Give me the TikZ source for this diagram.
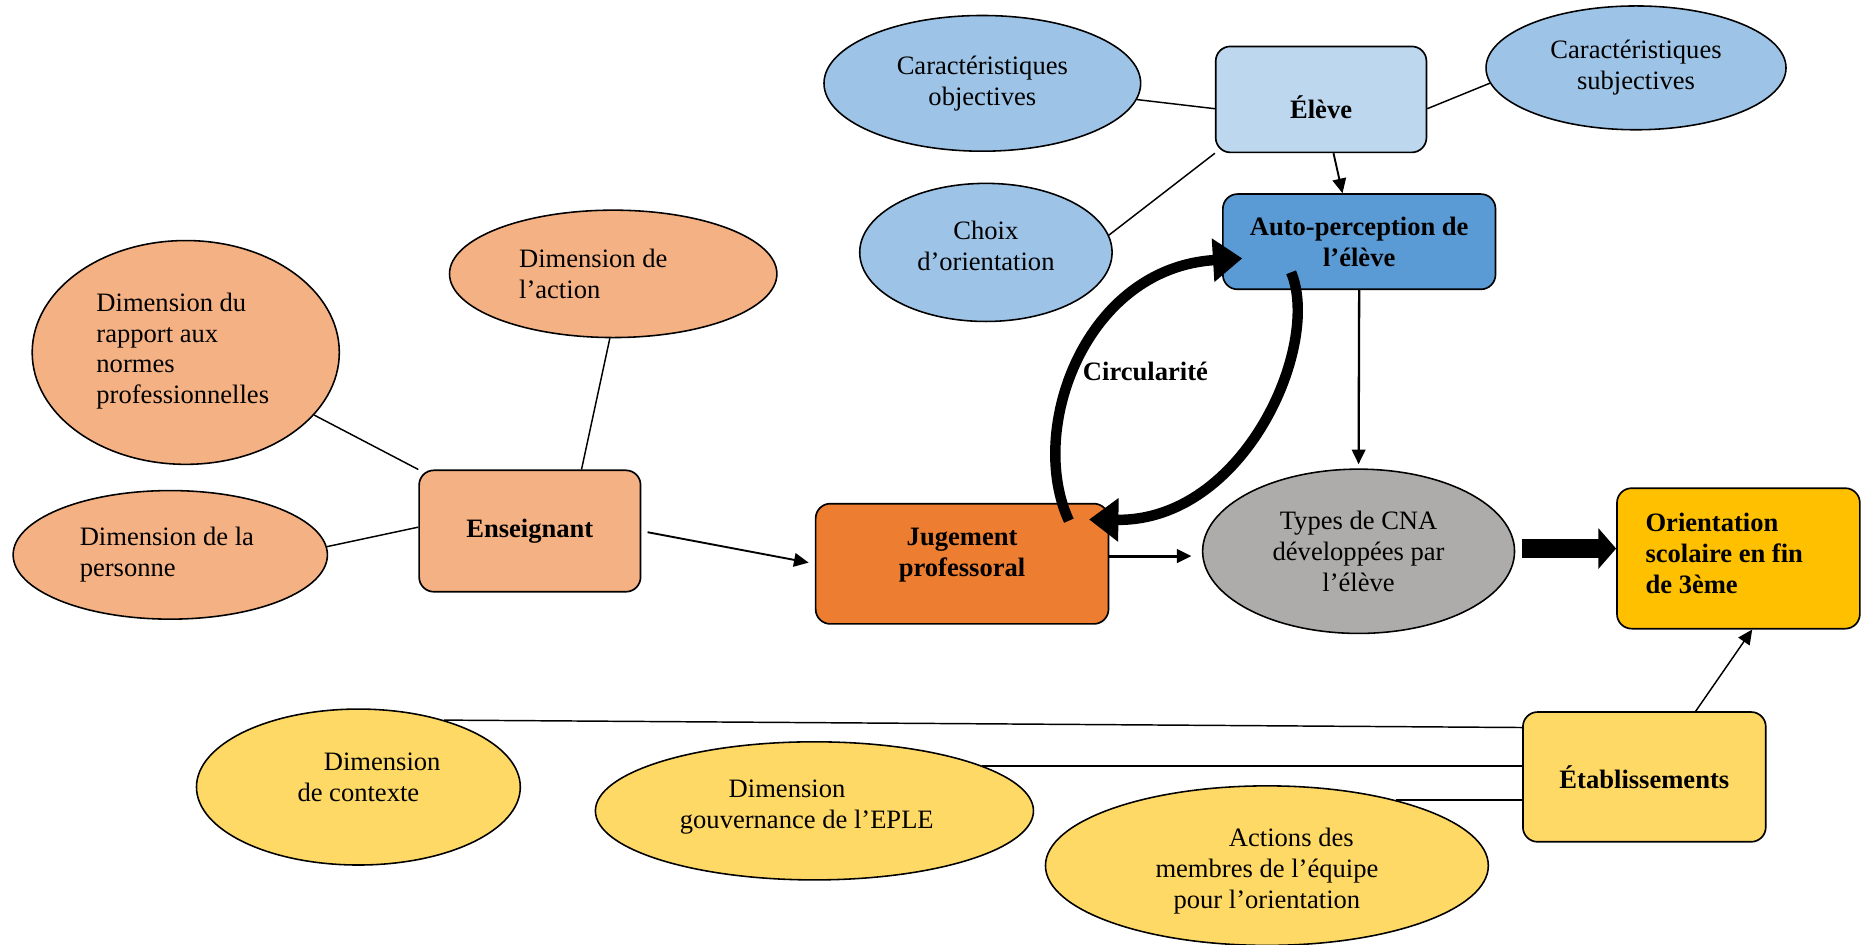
\documentclass[tikz,border=0pt]{standalone}
\usepackage{fontspec}
\setmainfont{Liberation Serif}
\usetikzlibrary{shapes.geometric,arrows.meta}
\definecolor{bluelight}{HTML}{BDD7EE}
\definecolor{bluemid}{HTML}{9DC3E6}
\definecolor{bluedark}{HTML}{5B9BD5}
\definecolor{peach}{HTML}{F4B183}
\definecolor{orangejug}{HTML}{ED7D31}
\definecolor{greycna}{HTML}{AEABAB}
\definecolor{goldorient}{HTML}{FFC000}
\definecolor{yellowetab}{HTML}{FFD966}

\begin{document}
\begin{tikzpicture}[x=0.02cm,y=-0.02cm,
    every node/.style={font=\fontsize{12.7}{14.8}\selectfont, inner sep=0pt},
    blob/.style={ellipse, draw, line width=0.75pt},
    box/.style={rectangle, draw, rounded corners=7pt, line width=0.8pt,
      font=\fontsize{12.7}{14.8}\selectfont\bfseries},
    link/.style={line width=0.7pt},
    arr/.style={line width=0.9pt, -{Triangle[length=7pt,width=6.5pt]}},
    thickarr/.style={line width=9pt, -{Triangle[length=8.5pt,width=19pt]}},
    circarr/.style={line width=5pt, -{Triangle[length=14pt,width=20pt]}}]
  \useasboundingbox (0,0) rectangle (1568,793);

  \node[blob, fill=bluemid, minimum width=5.32cm, minimum height=2.28cm, align=center]
    (cobj) at (825,70) {Caractéristiques\\objectives};
  \node[box, fill=bluelight, minimum width=3.54cm, minimum height=1.78cm, text height=0.63cm]
    (eleve) at (1109.5,83.5) {Élève};
  \node[blob, fill=bluemid, minimum width=5.04cm, minimum height=2.08cm, align=center]
    (csub) at (1374,57) {Caractéristiques\\subjectives};
  \node[blob, fill=bluemid, minimum width=4.24cm, minimum height=2.32cm, align=center, text depth=0.22cm]
    (choix) at (828,212) {Choix\\d’orientation};
  \node[box, fill=bluedark, minimum width=4.58cm, minimum height=1.6cm, align=center]
    (auto) at (1141.5,203) {Auto-perception de\\l’élève};

  \node[blob, fill=peach, minimum width=5.5cm, minimum height=2.14cm, text width=3.16cm, align=flush left]
    (action) at (515,230) {Dimension de\\l’action};
  \node[blob, fill=peach, minimum width=5.16cm, minimum height=3.76cm, text width=3.0cm, align=flush left, text depth=1.70cm]
    (rapport) at (156,296) {Dimension du\\rapport aux\\normes\\professionnelles};
  \node[blob, fill=peach, minimum width=5.28cm, minimum height=2.16cm, text width=3.04cm, align=flush left]
    (personne) at (143,466) {Dimension de la\\personne};
  \node[box, fill=peach, minimum width=3.72cm, minimum height=2.04cm]
    (ens) at (445,446) {Enseignant};
  \node[box, fill=orangejug, minimum width=4.92cm, minimum height=2.02cm, align=center, text depth=0.40cm]
    (jug) at (808,473.5) {Jugement\\professoral};
  \node[blob, fill=greycna, minimum width=5.24cm, minimum height=2.76cm, align=center]
    (types) at (1141,463) {Types de CNA\\développées par\\l’élève};
  \node[box, fill=goldorient, minimum width=4.08cm, minimum height=2.36cm, text width=3.12cm, align=flush left, text depth=1.22cm]
    (orient) at (1460,469) {Orientation\\scolaire en fin\\de 3ème};

  \node[box, fill=yellowetab, minimum width=4.08cm, minimum height=2.18cm]
    (etab) at (1381,652.5) {Établissements};
  \node[blob, fill=yellowetab, minimum width=5.44cm, minimum height=2.62cm, align=center, text depth=0.32cm]
    (ctx) at (301,661) {\hspace*{0.8cm}Dimension\\de contexte};
  \node[blob, fill=yellowetab, minimum width=7.36cm, minimum height=2.32cm, text width=4.52cm, align=flush left, text depth=0.74cm]
    (gov) at (684,681) {\hspace*{0.82cm}Dimension\\gouvernance de l’EPLE};
  \node[blob, fill=yellowetab, minimum width=7.44cm, minimum height=2.68cm, align=center, text height=1.53cm]
    (act) at (1064,727) {\hspace*{0.82cm}Actions des\\membres de l’équipe\\pour l’orientation};

  \node[font=\fontsize{12.7}{14.8}\selectfont\bfseries] (circ) at (962,312) {Circularité};

  \begin{scope}
    \draw[link] (cobj.-6) -- (eleve.185);
    \draw[link] (eleve.-5) -- (csub.186);
    \draw[link] (eleve.south west) -- (choix.8);
    \draw[arr] (eleve.-77) -- (auto.109);
    \draw[arr, line width=1.1pt, shorten >=2pt] (auto.south) -- (types.north);
    \draw[link] (action.-93) -- (ens.50);
    \draw[link] (rapport.-26) -- (ens.north west);
    \draw[link] (personne.3) -- (ens.178);
    \draw[arr, shorten <=3pt, shorten >=3pt] (ens.east) -- (jug.west);
    \draw[arr, line width=1.5pt, shorten >=5pt] (jug.3) -- (jug.3 -| types.west);
    \draw[thickarr, shorten <=3pt] (types.1) -- (types.1 -| orient.west);
    \draw[arr, line width=0.7pt] (etab.52) -- (orient.-79);
    \draw[link] (ctx.38) -- (etab.158);
    \draw[link] (gov.15) -- (gov.15 -| etab.west);
    \draw[link] (act.27) -- (act.27 -| etab.west);
  \end{scope}

  \begin{scope}
    \draw[circarr] ([shift={(-34,15)}]jug.north east)
      .. controls (862,360) and (912,225) .. ([shift={(17,14)}]auto.west);
    \draw[circarr] ([shift={(58,-15)}]auto.south west)
      .. controls (1110,290) and (1045,438) .. ([shift={(-17,14)}]jug.north east);
  \end{scope}
\end{tikzpicture}
\end{document}
